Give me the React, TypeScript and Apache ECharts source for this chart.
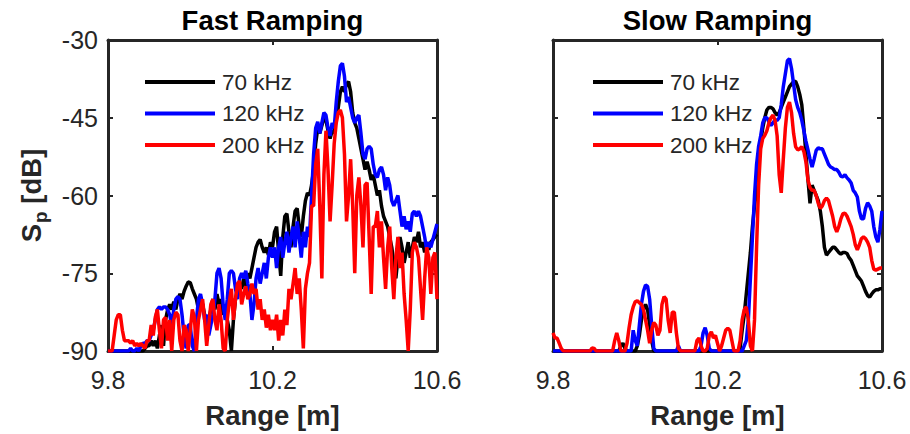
import React, { useEffect, useRef } from "react";
import * as echarts from "echarts";

// ---- data ----
const RANGE_START = 9.8;
const RANGE_STEP = 0.005;
const X_TICKS = [9.8, 10.2, 10.6];
const Y_MIN = -90;
const Y_MAX = -30;
const Y_STEP = 15;
const SERIES_NAMES = ["70 kHz", "120 kHz", "200 kHz"];
const PANEL_TITLES = ["Fast Ramping", "Slow Ramping"];

const FAST_70 = [
  -90, -90, -90, -90, -90, -90, -90, -90, -90, -90,
  -90, -90, -90, -90, -90, -90, -90, -90, -89.5, -89,
  -89, -88, -89, -88, -89.5, -87, -85, -89, -84, -82,
  -81, -82, -80.5, -82, -80, -79, -80, -78.5, -77.5, -76.7,
  -76.8, -78, -79, -80, -82, -80.5, -81, -83, -85, -84,
  -82, -80, -82, -79, -81, -80, -83, -82, -84, -86,
  -90, -84, -80, -78, -77, -78, -76, -77.5, -75, -76,
  -74, -72, -70, -69, -68.5, -70, -71, -70, -71.5, -69,
  -70, -67, -66, -71, -75.5, -68, -64, -63.5, -67, -70,
  -66, -63, -62.5, -66, -68, -64, -61, -59.5, -60, -58,
  -55, -50, -47, -48, -46.5, -45, -45.5, -47.5, -49, -47.5,
  -48, -45, -43, -40, -39, -40, -38.5, -38, -40, -44,
  -46, -47, -49, -51, -53, -55, -53.5, -55, -57, -56,
  -58, -60, -59, -62, -64, -65, -66, -68, -70, -73,
  -76, -72, -68, -70, -73, -71, -69, -72, -70, -68,
  -69, -67, -70, -69, -71, -69, -70.5, -69, -68.5, -68,
  -67.5,
];

const FAST_120 = [
  -90, -90, -90, -90, -90, -90, -90, -90, -90, -90,
  -90, -89.5, -90, -90, -89.5, -90, -89, -88.5, -88.5, -88,
  -88, -87, -86, -84, -82, -81.5, -82, -81.5, -81.5, -82,
  -83, -85, -82, -80, -79.5, -80, -83, -87, -89.5, -85,
  -85, -89, -90, -84, -80, -79, -81, -84, -83, -87,
  -85, -83, -80, -75, -74, -76, -81, -84, -80, -75,
  -74.5, -75, -78, -80, -76, -75, -76, -74.5, -77, -79,
  -84, -81, -76, -74, -77, -75, -73, -76, -72, -70,
  -72, -70, -74, -70, -68, -72, -69, -67, -71, -68,
  -66, -70, -65, -68, -72, -67, -70, -66, -68, -60,
  -52, -47, -45.8, -48, -46, -44, -44.5, -47, -48.5, -46,
  -47, -42, -38, -35, -34.5, -37, -42, -41, -43, -45,
  -46, -45, -44.5, -48, -52, -53, -51, -50.5, -51, -54,
  -56, -56.5, -55, -54.5, -56, -59, -56.5, -58, -61, -62,
  -61, -60, -63, -66, -64, -66.5, -65, -67, -63.5, -63,
  -64, -63, -64, -66, -68, -70.5, -69, -70, -68.5, -67,
  -65.5,
];

const FAST_200 = [
  -90, -90, -90, -87, -84, -83, -83, -86, -88, -88,
  -88, -88.5, -88, -89, -88.5, -89, -88.5, -89, -89.5, -88,
  -88, -85, -87, -83.5, -82, -86, -89.5, -84, -83.5, -88,
  -84, -90, -84, -82.5, -83, -88, -90, -85, -86, -90,
  -86, -82, -83.5, -90, -84, -82, -80, -84, -89, -85,
  -81, -80, -84, -86, -81, -84, -89.5, -90, -84, -80.5,
  -78, -84, -80, -77, -76.5, -81, -79, -77.5, -80, -79,
  -77, -79, -78, -82, -80, -84, -82, -85.5, -83, -86,
  -84, -86, -83, -88, -84, -87, -82, -85, -78, -80,
  -77, -74, -79, -76, -82, -89.5, -78, -75, -73, -62,
  -62, -54, -51, -62, -76, -56, -47.5, -55, -65, -58,
  -50, -46, -44, -43.5, -45, -52, -65, -60, -53, -62,
  -75, -60, -56.5, -62, -70, -58, -57.5, -68, -79, -66,
  -66, -63, -70, -65, -72, -78, -70, -66, -74, -80,
  -72, -68, -74, -71, -79, -84, -90, -82, -71, -69,
  -70, -72, -78, -84, -76, -70, -72, -79, -72, -71,
  -80,
];

const SLOW_70 = [
  -90, -90, -90, -90, -90, -90, -90, -90, -90, -90,
  -90, -90, -90, -90, -90, -90, -90, -90, -90, -90,
  -90, -90, -90, -90, -90, -90, -90, -90, -90, -90,
  -90, -90, -90, -89, -88.5, -89.5, -90, -90, -90, -90,
  -90, -89, -87, -84, -82, -81, -82, -85, -88, -90,
  -90, -90, -90, -90, -90, -90, -90, -90, -90, -90,
  -90, -90, -90, -90, -90, -90, -90, -90, -90, -90,
  -90, -90, -90, -90, -90, -90, -90, -90, -90, -90,
  -90, -90, -90, -90, -90, -90, -90, -90, -90, -90,
  -90, -89.5, -86, -83, -79, -75, -71, -66, -62, -59,
  -53, -49.5, -47, -45, -43.5, -43, -43, -43.3, -44, -44.5,
  -44, -43, -42, -41, -40, -39, -38.5, -38, -38, -39,
  -40.5, -42.5, -47, -52, -57, -61.5, -58, -59, -60, -61,
  -63, -66, -70, -71.5, -71, -70.5, -70, -70, -70.5, -71,
  -71.3, -71, -71, -71.2, -72, -72.5, -73.5, -74.5, -75.5, -76,
  -76.5, -77.5, -78.5, -79.3, -79.6, -79, -78.5, -78.2, -78.2, -78,
  -78,
];

const SLOW_120 = [
  -90, -90, -90, -90, -90, -90, -90, -90, -90, -90,
  -90, -90, -90, -90, -90, -90, -90, -90, -90, -90,
  -90, -90, -90, -90, -90, -90, -90, -90, -90, -90,
  -90, -90, -90, -90, -90, -90, -90, -90, -90, -86,
  -88, -89, -85, -81, -78.5, -77.3, -77.5, -80, -85, -89.5,
  -90, -90, -90, -90, -90, -90, -90, -90, -90, -90,
  -90, -89, -90, -90, -90, -90, -90, -90, -90, -90,
  -90, -90, -89, -86.5, -85.5, -87, -89.5, -90, -90, -90,
  -90, -90, -90, -90, -90, -90, -90, -90, -90, -90,
  -90, -90, -90, -89, -88, -84, -76, -68, -60, -54,
  -50.5, -48.5, -46, -45, -45, -45.8, -46.5, -46, -45.4, -45.5,
  -45, -42.5, -39, -36.5, -34, -33.6, -35.5, -38.5, -41.5, -43,
  -44, -45.5, -47.5, -49.5, -51.2, -53, -54.5, -53, -51.3, -50.8,
  -51, -51, -52, -53, -54, -54.5, -54.7, -55, -55, -55.5,
  -56.3, -56.4, -56, -56.6, -57, -57.6, -59, -59.5, -60.3, -63,
  -64.5, -64.5, -62.5, -61.4, -62, -63, -66, -68, -69, -66.5,
  -63,
];

const SLOW_200 = [
  -86.5, -87.5, -87.5, -88.5, -89.5, -90, -90, -90, -90, -90,
  -90, -90, -90, -90, -90, -90, -90, -90, -90, -89.4,
  -89.5, -90, -90, -90, -90, -90, -90, -90, -90, -90,
  -88, -86.5, -88, -90, -90, -90, -88.5, -85.5, -83, -81.5,
  -80.5, -80.3, -80.7, -81, -82, -84, -86, -88.5, -86, -84.5,
  -85, -87, -86, -81, -79.5, -80, -84, -86.5, -82.5, -82.5,
  -86.5, -89.5, -90, -90, -90, -90, -90, -90, -90, -90,
  -88, -87.5, -89, -90, -90, -89.5, -87, -86.3, -87.5, -87,
  -88.5, -90, -89, -87.5, -86, -85.6, -86, -88, -90, -90,
  -90, -88, -84, -82, -81.5, -84, -89, -90, -84, -70,
  -58, -51, -49, -48.4, -47.5, -46, -45, -44.5, -45.5, -48.5,
  -56, -59.5, -53, -47, -43, -42, -44, -48, -50.6, -51.2,
  -51, -50.6, -51.5, -53.5, -57, -58.5, -59, -59, -60, -61.5,
  -62.5, -62, -61, -60.5, -61, -62.5, -64, -66, -67, -66,
  -64.5, -63.5, -63.4, -64, -65, -66, -67.5, -69.5, -70.5, -69.5,
  -68.3, -68, -68.3, -69, -70, -72.5, -74.2, -74.4, -74.2, -74,
  -74,
];

// ---- styling ----
const FONT = "'Liberation Sans', Arial, Helvetica, sans-serif";
const AXIS_COLOR = "#262626";
const COLORS = ["#000000", "#0000ff", "#ff0000"];
const PANELS = [
  { left: 108, center: 272.5, legendLeft: 145, data: [FAST_70, FAST_120, FAST_200] },
  { left: 553, center: 717.5, legendLeft: 593, data: [SLOW_70, SLOW_120, SLOW_200] },
];
const GRID_TOP = 40;
const GRID_W = 329;
const GRID_H = 311;

function toPairs(vals: number[]) {
  return vals.map((v, i) => [+(RANGE_START + i * RANGE_STEP).toFixed(3), v]);
}

function buildOption() {
  const grid: any[] = [];
  const xAxis: any[] = [];
  const yAxis: any[] = [];
  const series: any[] = [];
  const title: any[] = [];
  const legend: any[] = [];

  const lineStyle = { color: AXIS_COLOR, width: 3 };
  const tickStyle = { color: AXIS_COLOR, width: 2 };

  PANELS.forEach((p, g) => {
    grid.push({ left: p.left, top: GRID_TOP, width: GRID_W, height: GRID_H, containLabel: false });

    xAxis.push({
      type: "value",
      gridIndex: g,
      position: "bottom",
      min: 9.8,
      max: 10.6,
      axisLine: { show: true, onZero: false, lineStyle },
      axisTick: { show: true, inside: true, length: 5, customValues: X_TICKS, lineStyle: tickStyle },
      axisLabel: {
        show: true,
        customValues: X_TICKS,
        margin: 16,
        fontSize: 25,
        color: AXIS_COLOR,
        fontFamily: FONT,
        formatter: (v: number) => String(Math.round(v * 10) / 10),
      },
      splitLine: { show: false },
      name: "Range [m]",
      nameLocation: "middle",
      nameGap: 50,
      nameTextStyle: { fontSize: 27.5, fontWeight: "bold", color: AXIS_COLOR, fontFamily: FONT },
    });
    xAxis.push({
      type: "value",
      gridIndex: g,
      position: "top",
      min: 9.8,
      max: 10.6,
      axisLine: { show: true, onZero: false, lineStyle },
      axisTick: { show: true, inside: true, length: 5, customValues: X_TICKS, lineStyle: tickStyle },
      axisLabel: { show: false },
      splitLine: { show: false },
    });

    const yLeft: any = {
      type: "value",
      gridIndex: g,
      position: "left",
      min: Y_MIN,
      max: Y_MAX,
      interval: Y_STEP,
      axisLine: { show: true, onZero: false, lineStyle },
      axisTick: { show: true, inside: true, length: 5, lineStyle: tickStyle },
      axisLabel: {
        show: g === 0,
        margin: 10,
        fontSize: 25,
        color: AXIS_COLOR,
        fontFamily: FONT,
      },
      splitLine: { show: false },
    };
    if (g === 0) {
      yLeft.name = "{s|S}{p|p}{s| [dB]}";
      yLeft.nameLocation = "middle";
      yLeft.nameGap = 58;
      yLeft.nameRotate = 90;
      yLeft.nameTextStyle = {
        color: AXIS_COLOR,
        fontFamily: FONT,
        rich: {
          s: { fontSize: 27.5, fontWeight: "bold", color: AXIS_COLOR, fontFamily: FONT },
          p: { fontSize: 19, fontWeight: "bold", color: AXIS_COLOR, fontFamily: FONT, padding: [18, 0, 0, 1] },
        },
      };
    }
    yAxis.push(yLeft);
    yAxis.push({
      type: "value",
      gridIndex: g,
      position: "right",
      min: Y_MIN,
      max: Y_MAX,
      interval: Y_STEP,
      axisLine: { show: true, onZero: false, lineStyle },
      axisTick: { show: true, inside: true, length: 5, lineStyle: tickStyle },
      axisLabel: { show: false },
      splitLine: { show: false },
    });

    p.data.forEach((vals, k) => {
      series.push({
        name: SERIES_NAMES[k],
        type: "line",
        xAxisIndex: g * 2,
        yAxisIndex: g * 2,
        data: toPairs(vals),
        showSymbol: false,
        symbol: "none",
        color: COLORS[k],
        lineStyle: { color: COLORS[k], width: 3.5 },
        z: 3 + k,
      });
    });

    title.push({
      text: PANEL_TITLES[g],
      left: p.center,
      top: 6,
      textAlign: "center",
      padding: 0,
      textStyle: { fontSize: 27.5, fontWeight: "bold", color: "#000000", fontFamily: FONT },
    });

    legend.push({
      orient: "vertical",
      left: p.legendLeft,
      top: 69,
      padding: 0,
      itemWidth: 70,
      itemHeight: 4,
      itemGap: 5.5,
      icon: "rect",
      selectedMode: false,
      data: SERIES_NAMES,
      textStyle: { fontSize: 22.5, lineHeight: 26, color: AXIS_COLOR, fontFamily: FONT, padding: [0, 0, 0, 2] },
    });
  });

  return {
    animation: false,
    backgroundColor: "#ffffff",
    textStyle: { fontFamily: FONT },
    title,
    legend,
    grid,
    xAxis,
    yAxis,
    series,
  };
}

export default function App() {
  const ref = useRef<HTMLDivElement | null>(null);
  useEffect(() => {
    if (!ref.current) return;
    const chart = echarts.init(ref.current, undefined, { renderer: "svg" });
    chart.setOption(buildOption() as any);
    return () => chart.dispose();
  }, []);
  return (
    <div
      ref={ref}
      style={{ position: "fixed", left: 0, top: 0, width: 910, height: 434, background: "#ffffff" }}
    />
  );
}
